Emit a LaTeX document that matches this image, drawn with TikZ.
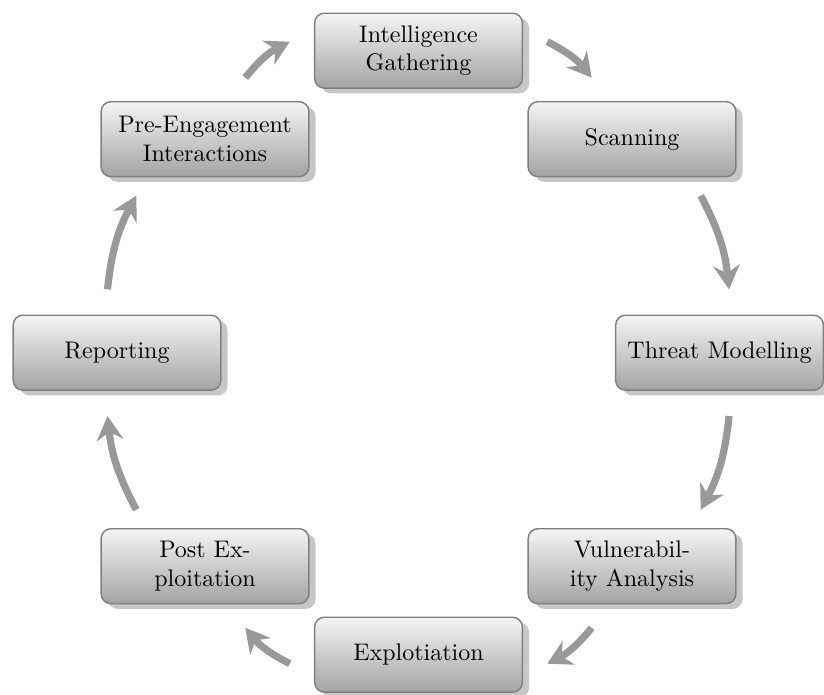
\documentclass[tikz,border=0pt]{standalone}
\usetikzlibrary{shadows,arrows.meta}
\begin{document}
\begin{tikzpicture}[x=0.41667pt, y=0.41667pt,
  module/.style={draw=black!50, line width=0.6pt, rounded corners=4pt,
    top color=black!4, bottom color=black!36,
    minimum width=86.5pt, minimum height=31.2pt, inner sep=0pt, align=center,
    drop shadow={shadow xshift=2.8pt, shadow yshift=-2.2pt, fill=black!22, opacity=1}},
  arr/.style={line width=3pt, draw=black!40,
    -{Stealth[length=10pt,width=11pt,inset=3.3pt]}}
]
\useasboundingbox (0,0) rectangle (824,695);
% modules (px coordinates, y upwards)
\node[module] (ig) at (418.5,644.3) {Intelligence\\Gathering};
\node[module] (sc) at (632,555.8) {Scanning};
\node[module] (tm) at (719.5,342.3) {Threat Modelling};
\node[module] (va) at (632,128.8) {Vulnerabil-\\ity Analysis};
\node[module] (ex) at (418.5,40.3) {Explotiation};
\node[module] (pe) at (205,128.8) {Post Ex-\\ploitation};
\node[module] (rp) at (117,342.3) {Reporting};
\node[module] (pr) at (205,555.8) {Pre-Engagement\\Interactions};
% arrows
\draw[arr] ([shift={(24.2,9)}]ig.east) to[bend left=12] ([shift={(-40.3,23.4)}]sc.north);
\draw[arr] ([shift={(68.7,-18.3)}]sc.south) to[bend left=11] ([shift={(9.5,25.2)}]tm.north);
\draw[arr] ([shift={(9.5,-25.2)}]tm.south) to[bend left=11] ([shift={(68.7,18.3)}]va.north);
\draw[arr] ([shift={(-40.3,-23.4)}]va.south) to[bend left=12] ([shift={(24.2,-9)}]ex.east);
\draw[arr] ([shift={(-24.2,-9)}]ex.west) to[bend left=12] ([shift={(40.3,-23.4)}]pe.south);
\draw[arr] ([shift={(-68.7,18.3)}]pe.north) to[bend left=11] ([shift={(-9.5,-25.2)}]rp.south);
\draw[arr] ([shift={(-9.5,25.2)}]rp.north) to[bend left=11] ([shift={(-68.7,-18.3)}]pr.south);
\draw[arr] ([shift={(40.3,23.4)}]pr.north) to[bend left=12] ([shift={(-24.2,9)}]ig.west);
\end{tikzpicture}
\end{document}
